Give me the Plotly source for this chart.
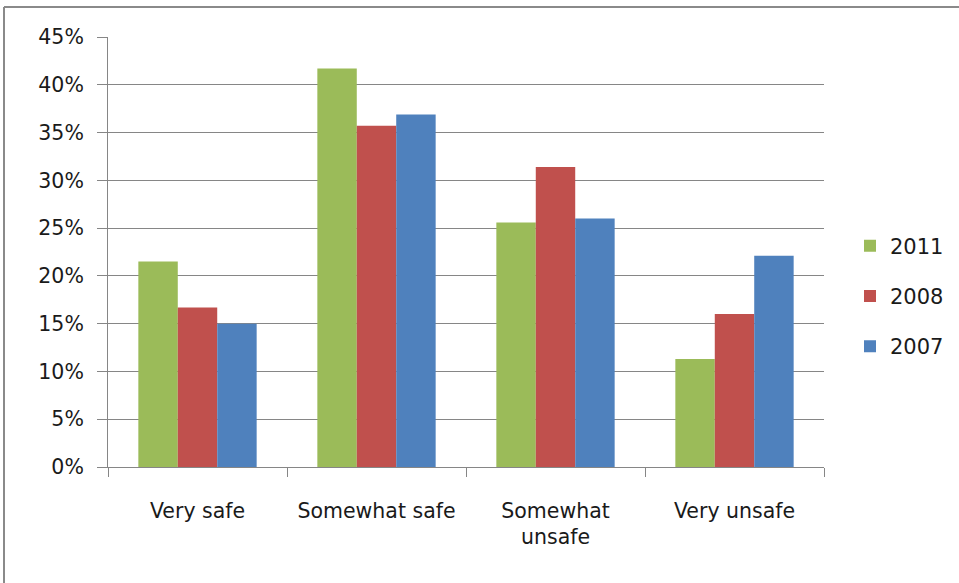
import plotly.graph_objects as go

categories = ["Very safe", "Somewhat safe", "Somewhat unsafe", "Very unsafe"]
tick_labels = ["Very safe", "Somewhat safe", "Somewhat<br>unsafe", "Very unsafe"]
series_names = ["2011", "2008", "2007"]
v2011 = [21.5, 41.7, 25.6, 11.3]
v2008 = [16.7, 35.7, 31.4, 16.0]
v2007 = [15.0, 36.9, 26.0, 22.1]
colors = ["#9BBB59", "#C0504D", "#4F81BD"]
y_ticks = [0, 5, 10, 15, 20, 25, 30, 35, 40, 45]
y_tick_labels = [f"{t}%" for t in y_ticks]

W, H = 959, 583
L, R, T, B = 108, 135, 37, 116
pw, ph = W - L - R, H - T - B

fig = go.Figure()
for name, vals, col in zip(series_names, [v2011, v2008, v2007], colors):
    fig.add_trace(go.Bar(x=categories, y=vals, name=name, marker_color=col,
                         marker_line_width=0, legendgroup=name))

font = "DejaVu Sans, sans-serif"
fig.update_layout(
    width=W, height=H,
    margin=dict(l=L, r=R, t=T, b=B, autoexpand=False),
    paper_bgcolor="white", plot_bgcolor="white",
    barmode="group", bargap=0.339, bargroupgap=0,
    font=dict(family=font, size=20.5, color="#1a1a1a"),
    legend=dict(x=(850 - L) / pw, y=(467 - 296) / ph, xanchor="left", yanchor="middle",
                font=dict(size=21), tracegroupgap=20, traceorder="grouped",
                itemwidth=30),
    xaxis=dict(tickmode="array", tickvals=categories, ticktext=tick_labels,
               showline=True, linecolor="#868686", linewidth=1,
               ticks="outside", tickson="boundaries", ticklen=9, tickcolor="#868686",
               showgrid=False, ticklabelstandoff=25),
    yaxis=dict(range=[0, 45], tickmode="array", tickvals=y_ticks, ticktext=y_tick_labels,
               showline=True, linecolor="#868686", linewidth=1,
               ticks="outside", ticklen=10, tickcolor="#868686",
               showgrid=True, gridcolor="#868686", gridwidth=1, zeroline=False,
               ticklabelstandoff=9),
    shapes=[
        dict(type="line", xref="paper", yref="paper",
             x0=(4 - L) / pw, x1=(4 - L) / pw, y0=(467 - 600) / ph, y1=(467 - 7) / ph,
             line=dict(color="#8a8a8a", width=2)),
        dict(type="line", xref="paper", yref="paper",
             x0=(4 - L) / pw, x1=(W + 5 - L) / pw, y0=(467 - 7) / ph, y1=(467 - 7) / ph,
             line=dict(color="#8a8a8a", width=2)),
    ],
)
fig.write_html("out.html")
